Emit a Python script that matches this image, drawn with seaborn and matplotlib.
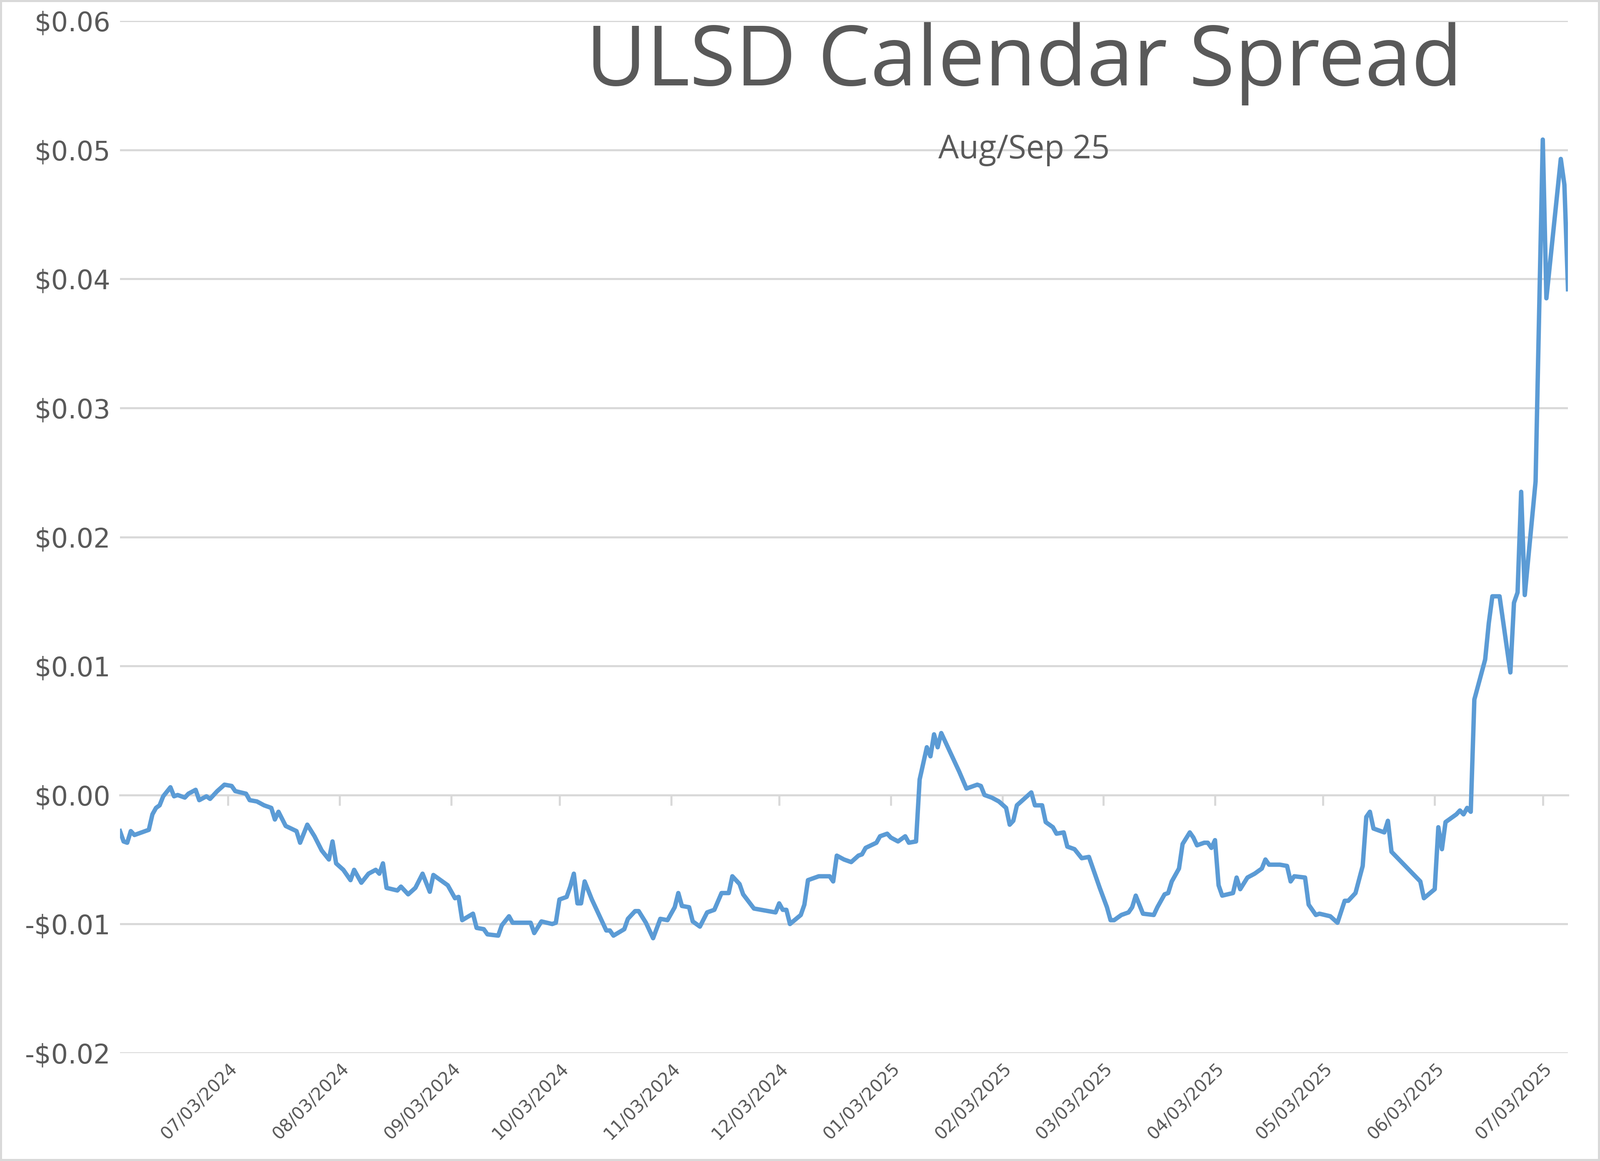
import pandas as pd
import matplotlib
matplotlib.use("Agg")
import matplotlib.pyplot as plt
import matplotlib.dates as mdates
from matplotlib.ticker import FuncFormatter, MultipleLocator
import seaborn as sns

# Aug/Sep 25 ULSD calendar spread
dates = [
    "2024-06-03", "2024-06-04", "2024-06-05", "2024-06-06", "2024-06-07", "2024-06-11", "2024-06-12",
    "2024-06-13", "2024-06-14", "2024-06-15", "2024-06-17", "2024-06-18", "2024-06-19", "2024-06-21",
    "2024-06-22", "2024-06-24", "2024-06-25", "2024-06-27", "2024-06-28", "2024-06-30", "2024-07-02",
    "2024-07-04", "2024-07-05", "2024-07-08", "2024-07-09", "2024-07-11", "2024-07-13", "2024-07-15",
    "2024-07-16", "2024-07-17", "2024-07-19", "2024-07-22", "2024-07-23", "2024-07-25", "2024-07-27",
    "2024-07-29", "2024-07-31", "2024-08-01", "2024-08-02", "2024-08-04", "2024-08-06", "2024-08-07",
    "2024-08-09", "2024-08-11", "2024-08-13", "2024-08-14", "2024-08-15", "2024-08-16", "2024-08-19",
    "2024-08-20", "2024-08-22", "2024-08-24", "2024-08-26", "2024-08-28", "2024-08-29", "2024-09-02",
    "2024-09-04", "2024-09-05", "2024-09-06", "2024-09-09", "2024-09-10", "2024-09-12", "2024-09-13",
    "2024-09-16", "2024-09-17", "2024-09-19", "2024-09-20", "2024-09-23", "2024-09-25", "2024-09-26",
    "2024-09-28", "2024-10-01", "2024-10-02", "2024-10-03", "2024-10-05", "2024-10-06", "2024-10-07",
    "2024-10-08", "2024-10-09", "2024-10-10", "2024-10-12", "2024-10-15", "2024-10-16", "2024-10-17",
    "2024-10-18", "2024-10-21", "2024-10-22", "2024-10-24", "2024-10-25", "2024-10-27", "2024-10-29",
    "2024-10-31", "2024-11-02", "2024-11-04", "2024-11-05", "2024-11-06", "2024-11-08", "2024-11-09",
    "2024-11-11", "2024-11-13", "2024-11-15", "2024-11-17", "2024-11-19", "2024-11-20", "2024-11-22",
    "2024-11-23", "2024-11-26", "2024-12-02", "2024-12-03", "2024-12-04", "2024-12-05", "2024-12-06",
    "2024-12-09", "2024-12-10", "2024-12-11", "2024-12-12", "2024-12-14", "2024-12-17", "2024-12-18",
    "2024-12-19", "2024-12-21", "2024-12-23", "2024-12-25", "2024-12-26", "2024-12-27", "2024-12-30",
    "2024-12-31", "2025-01-02", "2025-01-03", "2025-01-05", "2025-01-07", "2025-01-08", "2025-01-10",
    "2025-01-11", "2025-01-13", "2025-01-14", "2025-01-15", "2025-01-16", "2025-01-17", "2025-01-21",
    "2025-01-22", "2025-01-24", "2025-01-25", "2025-01-27", "2025-01-28", "2025-01-29", "2025-01-31",
    "2025-02-02", "2025-02-04", "2025-02-05", "2025-02-06", "2025-02-07", "2025-02-09", "2025-02-11",
    "2025-02-12", "2025-02-14", "2025-02-15", "2025-02-17", "2025-02-18", "2025-02-20", "2025-02-21",
    "2025-02-23", "2025-02-25", "2025-02-27", "2025-03-02", "2025-03-04", "2025-03-05", "2025-03-06",
    "2025-03-08", "2025-03-10", "2025-03-11", "2025-03-12", "2025-03-14", "2025-03-17", "2025-03-18",
    "2025-03-20", "2025-03-21", "2025-03-22", "2025-03-24", "2025-03-25", "2025-03-27", "2025-03-28",
    "2025-03-29", "2025-03-31", "2025-04-01", "2025-04-02", "2025-04-03", "2025-04-04", "2025-04-05",
    "2025-04-08", "2025-04-09", "2025-04-10", "2025-04-12", "2025-04-14", "2025-04-16", "2025-04-17",
    "2025-04-18", "2025-04-21", "2025-04-23", "2025-04-24", "2025-04-25", "2025-04-28", "2025-04-29",
    "2025-05-01", "2025-05-02", "2025-05-05", "2025-05-07", "2025-05-09", "2025-05-10", "2025-05-12",
    "2025-05-14", "2025-05-15", "2025-05-16", "2025-05-17", "2025-05-20", "2025-05-21", "2025-05-22",
    "2025-05-30", "2025-05-31", "2025-06-03", "2025-06-04", "2025-06-05", "2025-06-06", "2025-06-09",
    "2025-06-10", "2025-06-11", "2025-06-12", "2025-06-13", "2025-06-14", "2025-06-17", "2025-06-18",
    "2025-06-19", "2025-06-21", "2025-06-24", "2025-06-25", "2025-06-26", "2025-06-27", "2025-06-28",
    "2025-07-01", "2025-07-03", "2025-07-04", "2025-07-08", "2025-07-09", "2025-07-10",
]
spread = [
    -0.0028, -0.0036, -0.0037, -0.0028, -0.0031, -0.0027, -0.0015,
    -0.0010, -0.0008, -0.0001, 0.0006, -0.0001, 0.0000, -0.0002,
    0.0001, 0.0004, -0.0004, -0.0001, -0.0003, 0.0003, 0.0008,
    0.0007, 0.0003, 0.0001, -0.0004, -0.0005, -0.0008, -0.0010,
    -0.0019, -0.0013, -0.0024, -0.0028, -0.0037, -0.0023, -0.0032,
    -0.0043, -0.0050, -0.0036, -0.0053, -0.0058, -0.0066, -0.0058,
    -0.0068, -0.0061, -0.0058, -0.0061, -0.0053, -0.0072, -0.0074,
    -0.0071, -0.0077, -0.0072, -0.0061, -0.0075, -0.0062, -0.0070,
    -0.0080, -0.0079, -0.0097, -0.0092, -0.0103, -0.0104, -0.0108,
    -0.0109, -0.0101, -0.0094, -0.0099, -0.0099, -0.0099, -0.0107,
    -0.0098, -0.0100, -0.0099, -0.0081, -0.0079, -0.0071, -0.0061,
    -0.0084, -0.0084, -0.0067, -0.0081, -0.0099, -0.0105, -0.0105,
    -0.0109, -0.0104, -0.0096, -0.0090, -0.0090, -0.0099, -0.0111,
    -0.0096, -0.0097, -0.0087, -0.0076, -0.0086, -0.0087, -0.0098,
    -0.0102, -0.0091, -0.0089, -0.0076, -0.0076, -0.0063, -0.0069,
    -0.0077, -0.0088, -0.0091, -0.0084, -0.0089, -0.0089, -0.0100,
    -0.0093, -0.0085, -0.0066, -0.0065, -0.0063, -0.0063, -0.0067,
    -0.0047, -0.0050, -0.0052, -0.0047, -0.0046, -0.0041, -0.0037,
    -0.0032, -0.0030, -0.0033, -0.0036, -0.0032, -0.0037, -0.0036,
    0.0012, 0.0037, 0.0030, 0.0047, 0.0037, 0.0048, 0.0024,
    0.0018, 0.0005, 0.0006, 0.0008, 0.0007, 0.0000, -0.0002,
    -0.0005, -0.0010, -0.0023, -0.0020, -0.0008, -0.0003, 0.0002,
    -0.0008, -0.0008, -0.0021, -0.0025, -0.0030, -0.0029, -0.0040,
    -0.0042, -0.0049, -0.0048, -0.0072, -0.0087, -0.0097, -0.0097,
    -0.0093, -0.0091, -0.0087, -0.0078, -0.0092, -0.0093, -0.0087,
    -0.0077, -0.0076, -0.0067, -0.0057, -0.0038, -0.0029, -0.0033,
    -0.0039, -0.0037, -0.0037, -0.0041, -0.0035, -0.0070, -0.0078,
    -0.0076, -0.0064, -0.0073, -0.0064, -0.0061, -0.0057, -0.0050,
    -0.0054, -0.0054, -0.0055, -0.0067, -0.0063, -0.0064, -0.0085,
    -0.0093, -0.0092, -0.0094, -0.0099, -0.0082, -0.0082, -0.0076,
    -0.0055, -0.0017, -0.0013, -0.0026, -0.0029, -0.0020, -0.0044,
    -0.0067, -0.0080, -0.0073, -0.0025, -0.0042, -0.0021, -0.0015,
    -0.0012, -0.0015, -0.0010, -0.0013, 0.0074, 0.0105, 0.0133,
    0.0154, 0.0154, 0.0095, 0.0149, 0.0157, 0.0235, 0.0155,
    0.0243, 0.0508, 0.0385, 0.0493, 0.0473, 0.0392,
]
tick_dates = pd.date_range("2024-06-03", "2025-07-03", freq="MS") + pd.Timedelta(days=2)
title = "ULSD Calendar Spread"
subtitle = "Aug/Sep 25"

df = pd.DataFrame({"date": pd.to_datetime(dates), "spread": spread})

grey = "#595959"
fig = plt.figure(figsize=(19.2, 13.93), dpi=200)
fig.patch.set_edgecolor("#D9D9D9")
fig.patch.set_linewidth(3)
ax = fig.add_axes([0.075, 0.093, 0.905, 0.889])

sns.lineplot(data=df, x="date", y="spread", ax=ax, color="#5B9BD5", linewidth=3.8)

ax.set_ylim(-0.02, 0.06)
ax.set_xlim(pd.Timestamp("2024-06-03"), pd.Timestamp("2025-07-10"))
ax.yaxis.set_major_locator(MultipleLocator(0.01))
ax.yaxis.set_major_formatter(FuncFormatter(
    lambda v, p: f"-${abs(v):.2f}" if v < -1e-9 else f"${abs(v):.2f}"))
ax.grid(axis="y", color="#D9D9D9", linewidth=1.8)
ax.grid(axis="x", visible=False)
ax.set_axisbelow(True)
for s in ax.spines.values():
    s.set_visible(False)
ax.set_xlabel("")
ax.set_ylabel("")
ax.tick_params(axis="y", length=0, labelsize=23, labelcolor=grey, pad=8)

# date labels at the bottom, tick marks on the zero line
ax.set_xticks(tick_dates)
ax.xaxis.set_major_formatter(mdates.DateFormatter("%m/%d/%Y"))
ax.tick_params(axis="x", length=0, labelsize=15, labelcolor=grey, pad=6)
plt.setp(ax.get_xticklabels(), rotation=45, ha="right", rotation_mode="anchor")
sec = ax.secondary_xaxis(0.25)
sec.set_xticks(tick_dates)
sec.tick_params(axis="x", direction="out", length=9, width=1.8, color="#D9D9D9", labelbottom=False)
sec.spines["bottom"].set_color("#D9D9D9")
sec.spines["bottom"].set_linewidth(1.8)

fig.text(0.64, 0.945, title, ha="center", va="center", fontsize=72,
         color=grey, family="Open Sans")
fig.text(0.64, 0.871, subtitle, ha="center", va="center", fontsize=28,
         color=grey, family="Open Sans")

fig.savefig("out.png", dpi=200, edgecolor=fig.get_edgecolor())
